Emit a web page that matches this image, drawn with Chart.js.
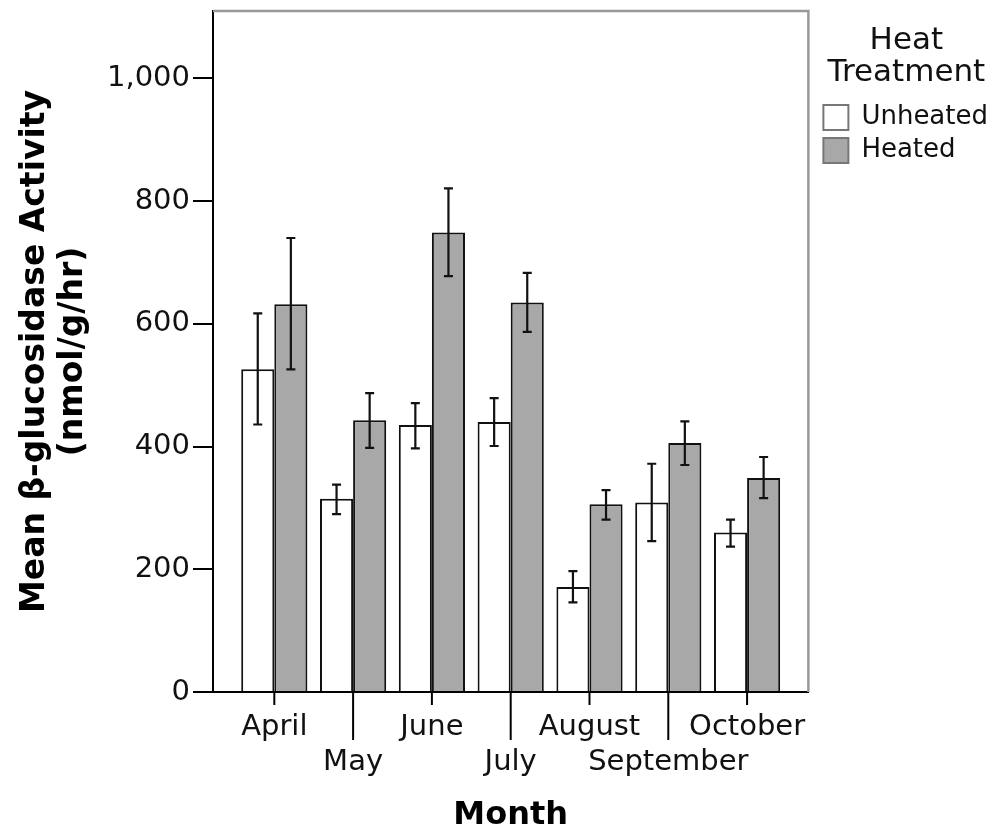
<!DOCTYPE html>
<html>
<head>
<meta charset="utf-8">
<script src="https://cdn.jsdelivr.net/npm/chart.js@4"></script>
<style>
  body { margin: 0; background: #fff; }
  #wrap { width: 995px; height: 834px; }
</style>
</head>
<body>
<div id="wrap"><canvas id="chart"></canvas></div>
<script>
const months = ["April", "May", "June", "July", "August", "September", "October"];
const unheated = [526, 315, 435, 440, 171, 309, 260];
const unheatedLow = [436, 290, 397, 401, 146, 246, 237];
const unheatedHigh = [617, 338, 471, 479, 197, 372, 281];
const heated = [632, 443, 749, 635, 306, 406, 349];
const heatedLow = [526, 398, 678, 587, 281, 370, 316];
const heatedHigh = [740, 487, 821, 683, 329, 441, 383];
const yTicks = [0, 200, 400, 600, 800, 1000];

const errorBars = [[unheatedLow, unheatedHigh], [heatedLow, heatedHigh]];
const FONT = "'DejaVu Sans', Verdana, sans-serif";

// error bars, frame, staggered x tick marks
const extras = {
  id: "extras",
  afterLayout(chart) {
    // move legend a bit right of the plot frame
    chart.legend.left = chart.chartArea.right + 8;
    chart.legend.width = 180;
  },
  afterDatasetsDraw(chart) {
    const ctx = chart.ctx;
    const y = chart.scales.y;
    ctx.save();
    ctx.strokeStyle = "#111";
    ctx.lineWidth = 2.2;
    errorBars.forEach(([lo, hi], di) => {
      chart.getDatasetMeta(di).data.forEach((bar, i) => {
        const top = y.getPixelForValue(hi[i]);
        const bot = y.getPixelForValue(lo[i]);
        ctx.beginPath();
        ctx.moveTo(bar.x, top);
        ctx.lineTo(bar.x, bot);
        ctx.moveTo(bar.x - 4.5, top);
        ctx.lineTo(bar.x + 4.5, top);
        ctx.moveTo(bar.x - 4.5, bot);
        ctx.lineTo(bar.x + 4.5, bot);
        ctx.stroke();
      });
    });
    ctx.restore();
  },
  afterDraw(chart) {
    const ctx = chart.ctx;
    const a = chart.chartArea;
    const x = chart.scales.x;
    ctx.save();
    ctx.strokeStyle = "#999";
    ctx.lineWidth = 2.5;
    ctx.beginPath();
    ctx.moveTo(a.left, a.top);
    ctx.lineTo(a.right, a.top);
    ctx.lineTo(a.right, a.bottom);
    ctx.stroke();
    ctx.strokeStyle = "#000";
    ctx.lineWidth = 2;
    months.forEach((m, i) => {
      const px = x.getPixelForValue(i);
      ctx.beginPath();
      ctx.moveTo(px, a.bottom);
      ctx.lineTo(px, a.bottom + (i % 2 ? 48 : 13));
      ctx.stroke();
    });
    ctx.restore();
  }
};

new Chart(document.getElementById("chart"), {
  type: "bar",
  data: {
    datasets: [
      {
        label: "Unheated",
        data: unheated.map((v, i) => ({ x: i, y: v })),
        backgroundColor: "#ffffff",
        borderColor: "#111",
        borderWidth: 2,
      },
      {
        label: "Heated",
        data: heated.map((v, i) => ({ x: i, y: v })),
        backgroundColor: "#a8a8a8",
        borderColor: "#111",
        borderWidth: 2,
      },
    ],
  },
  options: {
    responsive: true,
    maintainAspectRatio: false,
    animation: false,
    categoryPercentage: 0.84,
    barPercentage: 1.0,
    layout: { padding: { top: 11, right: 5, bottom: 0, left: 0 } },
    plugins: {
      tooltip: { enabled: false },
      legend: {
        position: "right",
        align: "start",
        maxWidth: 188,
        title: {
          display: true,
          text: ["Heat", "Treatment"],
          color: "#111",
          font: { family: FONT, size: 31, lineHeight: 1.05 },
          padding: { top: 14, bottom: 40 },
        },
        labels: {
          color: "#111",
          font: { family: FONT, size: 26 },
          boxWidth: 25,
          boxHeight: 25,
          padding: 7,
          generateLabels: (chart) =>
            Chart.defaults.plugins.legend.labels.generateLabels(chart).map((item) => ({
              ...item,
              strokeStyle: "#777",
              lineWidth: 2,
            })),
        },
      },
    },
    scales: {
      x: {
        type: "linear",
        offset: false,
        min: -0.778,
        max: 6.778,
        afterBuildTicks: (scale) => {
          scale.ticks = months.map((m, i) => ({ value: i }));
        },
        afterFit: (scale) => {
          scale.height = 142;
          scale.paddingLeft = 0;
          scale.paddingRight = 0;
        },
        grid: { display: false, drawTicks: false },
        border: { display: true, color: "#000", width: 2 },
        ticks: {
          autoSkip: false,
          maxRotation: 0,
          minRotation: 0,
          padding: 18,
          color: "#111",
          font: { family: FONT, size: 29, lineHeight: 1.2 },
          callback: (value) => (value % 2 ? ["", months[value]] : months[value]),
        },
        title: {
          display: true,
          text: "Month",
          color: "#000",
          font: { family: FONT, size: 32, weight: "bold", lineHeight: 1.1 },
          padding: { top: 0, bottom: 1 },
        },
      },
      y: {
        min: 0,
        max: 1110,
        afterBuildTicks: (scale) => {
          scale.ticks = yTicks.map((v) => ({ value: v }));
        },
        afterFit: (scale) => {
          scale.width = 213;
          scale.paddingTop = 0;
          scale.paddingBottom = 0;
        },
        grid: { drawOnChartArea: false, color: "#000", lineWidth: 2, tickLength: 20 },
        border: { display: true, color: "#000", width: 2 },
        ticks: {
          padding: 3,
          color: "#111",
          font: { family: FONT, size: 29 },
          callback: (value) => value.toLocaleString("en-US"),
        },
        title: {
          display: true,
          text: ["Mean β-glucosidase Activity", "(nmol/g/hr)"],
          color: "#000",
          font: { family: FONT, size: 33, weight: "bold", lineHeight: 1.15 },
          padding: { top: 16, bottom: 0 },
        },
      },
    },
  },
  plugins: [extras],
});
</script>
</body>
</html>
